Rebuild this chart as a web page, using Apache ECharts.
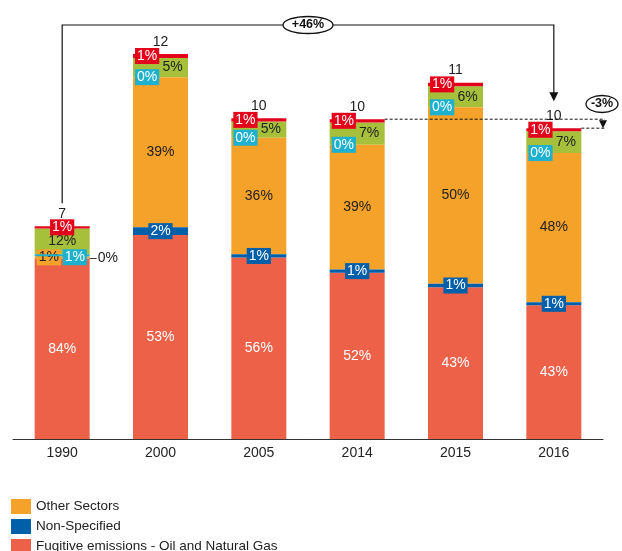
<!DOCTYPE html>
<html>
<head>
<meta charset="utf-8">
<title>Emissions by sector</title>
<script src="https://cdn.jsdelivr.net/npm/echarts@6/dist/echarts.min.js"></script>
<style>
  html, body { margin: 0; padding: 0; background: #ffffff; }
  #chart { width: 622px; height: 551px; }
</style>
</head>
<body>
<div id="chart"></div>
<script>
// Years on the x axis
const years = ['1990', '2000', '2005', '2014', '2015', '2016'];
// Total emissions per year (same unit as the stacked segments)
const totals = [6.7, 12.0, 10.1, 9.97, 11.0, 9.69];
// Share of each year's total, in percent, per category (bottom of stack first)
const shareFugitive = [84, 53, 56, 52, 43, 43];
const shareNonSpecified = [0, 2, 1, 1, 1, 1];
const shareOtherSectors = [1, 39, 36, 39, 50, 48];
const shareCategoryD = [1, 0, 0, 0, 0, 0];
const shareCategoryE = [12, 5, 5, 7, 6, 7];
const shareCategoryF = [1, 1, 1, 1, 1, 1];
// Legend entries, top to bottom
const legendNames = ['Other Sectors', 'Non-Specified', 'Fugitive emissions - Oil and Natural Gas'];

const COLORS = {
  fugitive: '#ED6149',
  nonSpecified: '#005FA9',
  other: '#F5A22B',
  d: '#1DB0CF',
  e: '#A7C03B',
  f: '#E2001A'
};
const FONT = 'Arial, "Liberation Sans", sans-serif';
const BAR_WIDTH = 55;

const allShares = [shareFugitive, shareNonSpecified, shareOtherSectors,
                   shareCategoryD, shareCategoryE, shareCategoryF];
// Height of each stacked bar, summed from its segments
const stackTops = years.map((_, i) =>
  allShares.reduce((acc, s) => acc + totals[i] * s[i] / 100, 0));

function boxLabel(bg) {
  return {
    color: '#ffffff', backgroundColor: bg, padding: [1, 2, 1, 2],
    lineHeight: 14, fontSize: 14
  };
}
const leftAnchored = { position: [2, '50%'], align: 'left', verticalAlign: 'middle' };

function segment(name, shares, color, z, label, overrides) {
  return {
    name, type: 'bar', stack: 'total', barWidth: BAR_WIDTH, z,
    itemStyle: { color },
    label: Object.assign({
      show: true, fontSize: 14, fontFamily: FONT,
      formatter: p => shares[p.dataIndex] + '%'
    }, label),
    emphasis: { disabled: true },
    data: shares.map((s, i) => {
      const item = { value: totals[i] * s / 100 };
      if (overrides && overrides[i]) item.label = overrides[i];
      return item;
    })
  };
}

const series = [
  segment('Fugitive emissions - Oil and Natural Gas', shareFugitive, COLORS.fugitive, 2,
    { position: 'inside', color: '#ffffff' }),
  segment('Non-Specified', shareNonSpecified, COLORS.nonSpecified, 4,
    Object.assign({ position: 'inside' }, boxLabel(COLORS.nonSpecified)),
    { 0: {
        position: 'right', distance: 0, backgroundColor: 'transparent', padding: 0,
        formatter: '{ln|}{t|0%}',
        rich: {
          ln: { width: 7, height: 1, backgroundColor: '#333333' },
          t: { color: '#222222', fontSize: 14, fontFamily: FONT, padding: [0, 0, 0, 1] }
        }
    } }),
  segment('Other Sectors', shareOtherSectors, COLORS.other, 3,
    { position: 'inside', color: '#222222' },
    { 0: Object.assign({}, leftAnchored, boxLabel(COLORS.other), { color: '#222222' }) }),
  segment('Category D', shareCategoryD, COLORS.d, 5,
    Object.assign({}, leftAnchored, boxLabel(COLORS.d)),
    { 0: { position: [28, '50%'], offset: [0, 2] } }),
  segment('Category E', shareCategoryE, COLORS.e, 2,
    { position: 'inside', color: '#222222', offset: [12, 0] },
    { 0: { offset: [0, 0] } }),
  segment('Category F', shareCategoryF, COLORS.f, 6,
    Object.assign({}, leftAnchored, boxLabel(COLORS.f)),
    { 0: { position: 'inside', align: 'center' } }),
  {
    name: 'total', type: 'bar', stack: 'total', barWidth: BAR_WIDTH, z: 7, silent: true,
    itemStyle: { color: 'transparent' },
    label: {
      show: true, position: 'top', distance: 5, color: '#222222', fontSize: 14,
      fontFamily: FONT, formatter: p => String(Math.round(stackTops[p.dataIndex]))
    },
    data: years.map(() => 0)
  }
];

// One legend row per entry so the list runs straight down the left edge
const legends = legendNames.map((name, i) => ({
  data: [name],
  orient: 'vertical', left: 11, top: 499 + i * 20, padding: 0,
  icon: 'rect', itemWidth: 20, itemHeight: 15,
  textStyle: { fontSize: 13.5, color: '#222222', fontFamily: FONT },
  selectedMode: false
}));

const chart = echarts.init(document.getElementById('chart'), null, { renderer: 'canvas' });
chart.setOption({
  animation: false,
  backgroundColor: '#ffffff',
  textStyle: { fontFamily: FONT },
  grid: { left: 13, right: 19, top: 22, bottom: 112, containLabel: false },
  legend: legends,
  xAxis: {
    type: 'category', data: years,
    axisLine: { lineStyle: { color: '#333333', width: 1 } },
    axisTick: { show: false },
    axisLabel: { color: '#222222', fontSize: 14, margin: 7, fontFamily: FONT }
  },
  yAxis: { type: 'value', min: 0, max: 13, show: false, splitLine: { show: false } },
  series
});

// Change annotations: 1990 -> 2016 bracket and 2014 -> 2016 step
const px = (i) => chart.convertToPixel({ gridIndex: 0 }, [years[i], stackTops[i]]);
const first = px(0), last = px(5), y2014 = px(3);
const half = BAR_WIDTH / 2;
const bracketY = 25;
const tipY = last[1] - 27;
const longChange = Math.round((stackTops[5] / stackTops[0] - 1) * 100);
const shortChange = Math.round((stackTops[5] / stackTops[3] - 1) * 100);
const fmt = v => (v > 0 ? '+' : '') + v + '%';
const edgeX = 605;

const black = '#111111';
const graphics = [
  { type: 'polyline', shape: { points: [[first[0], first[1] - 23], [first[0], bracketY],
      [last[0], bracketY], [last[0], tipY - 8]] },
    style: { stroke: black, lineWidth: 1.2, fill: null }, z: 10 },
  { type: 'polygon', shape: { points: [[last[0] - 4.5, tipY - 9], [last[0] + 4.5, tipY - 9], [last[0], tipY]] },
    style: { fill: black }, z: 10 },
  { type: 'ellipse', shape: { cx: (first[0] + last[0]) / 2, cy: bracketY, rx: 25, ry: 8.5 },
    style: { fill: '#ffffff', stroke: black, lineWidth: 1.3 }, z: 11 },
  { type: 'text', x: (first[0] + last[0]) / 2, y: bracketY, z: 12,
    style: { text: fmt(longChange), fill: black, font: 'bold 12.5px ' + FONT, align: 'center', verticalAlign: 'middle' } },
  { type: 'line', shape: { x1: y2014[0] + half, y1: y2014[1], x2: edgeX, y2: y2014[1] },
    style: { stroke: black, lineWidth: 1, lineDash: [3, 2] }, z: 10 },
  { type: 'line', shape: { x1: last[0] + half, y1: last[1], x2: edgeX, y2: last[1] },
    style: { stroke: black, lineWidth: 1, lineDash: [3, 2] }, z: 10 },
  { type: 'polygon', shape: { points: [[edgeX - 6, y2014[1] + 1], [edgeX + 2, y2014[1] + 1], [edgeX - 2, last[1]]] },
    style: { fill: black }, z: 10 },
  { type: 'ellipse', shape: { cx: 602, cy: 104, rx: 16, ry: 8.5 },
    style: { fill: '#ffffff', stroke: black, lineWidth: 1.3 }, z: 11 },
  { type: 'text', x: 602, y: 104, z: 12,
    style: { text: fmt(shortChange), fill: black, font: 'bold 12.5px ' + FONT, align: 'center', verticalAlign: 'middle' } }
];
chart.setOption({ graphic: graphics });
</script>
</body>
</html>
